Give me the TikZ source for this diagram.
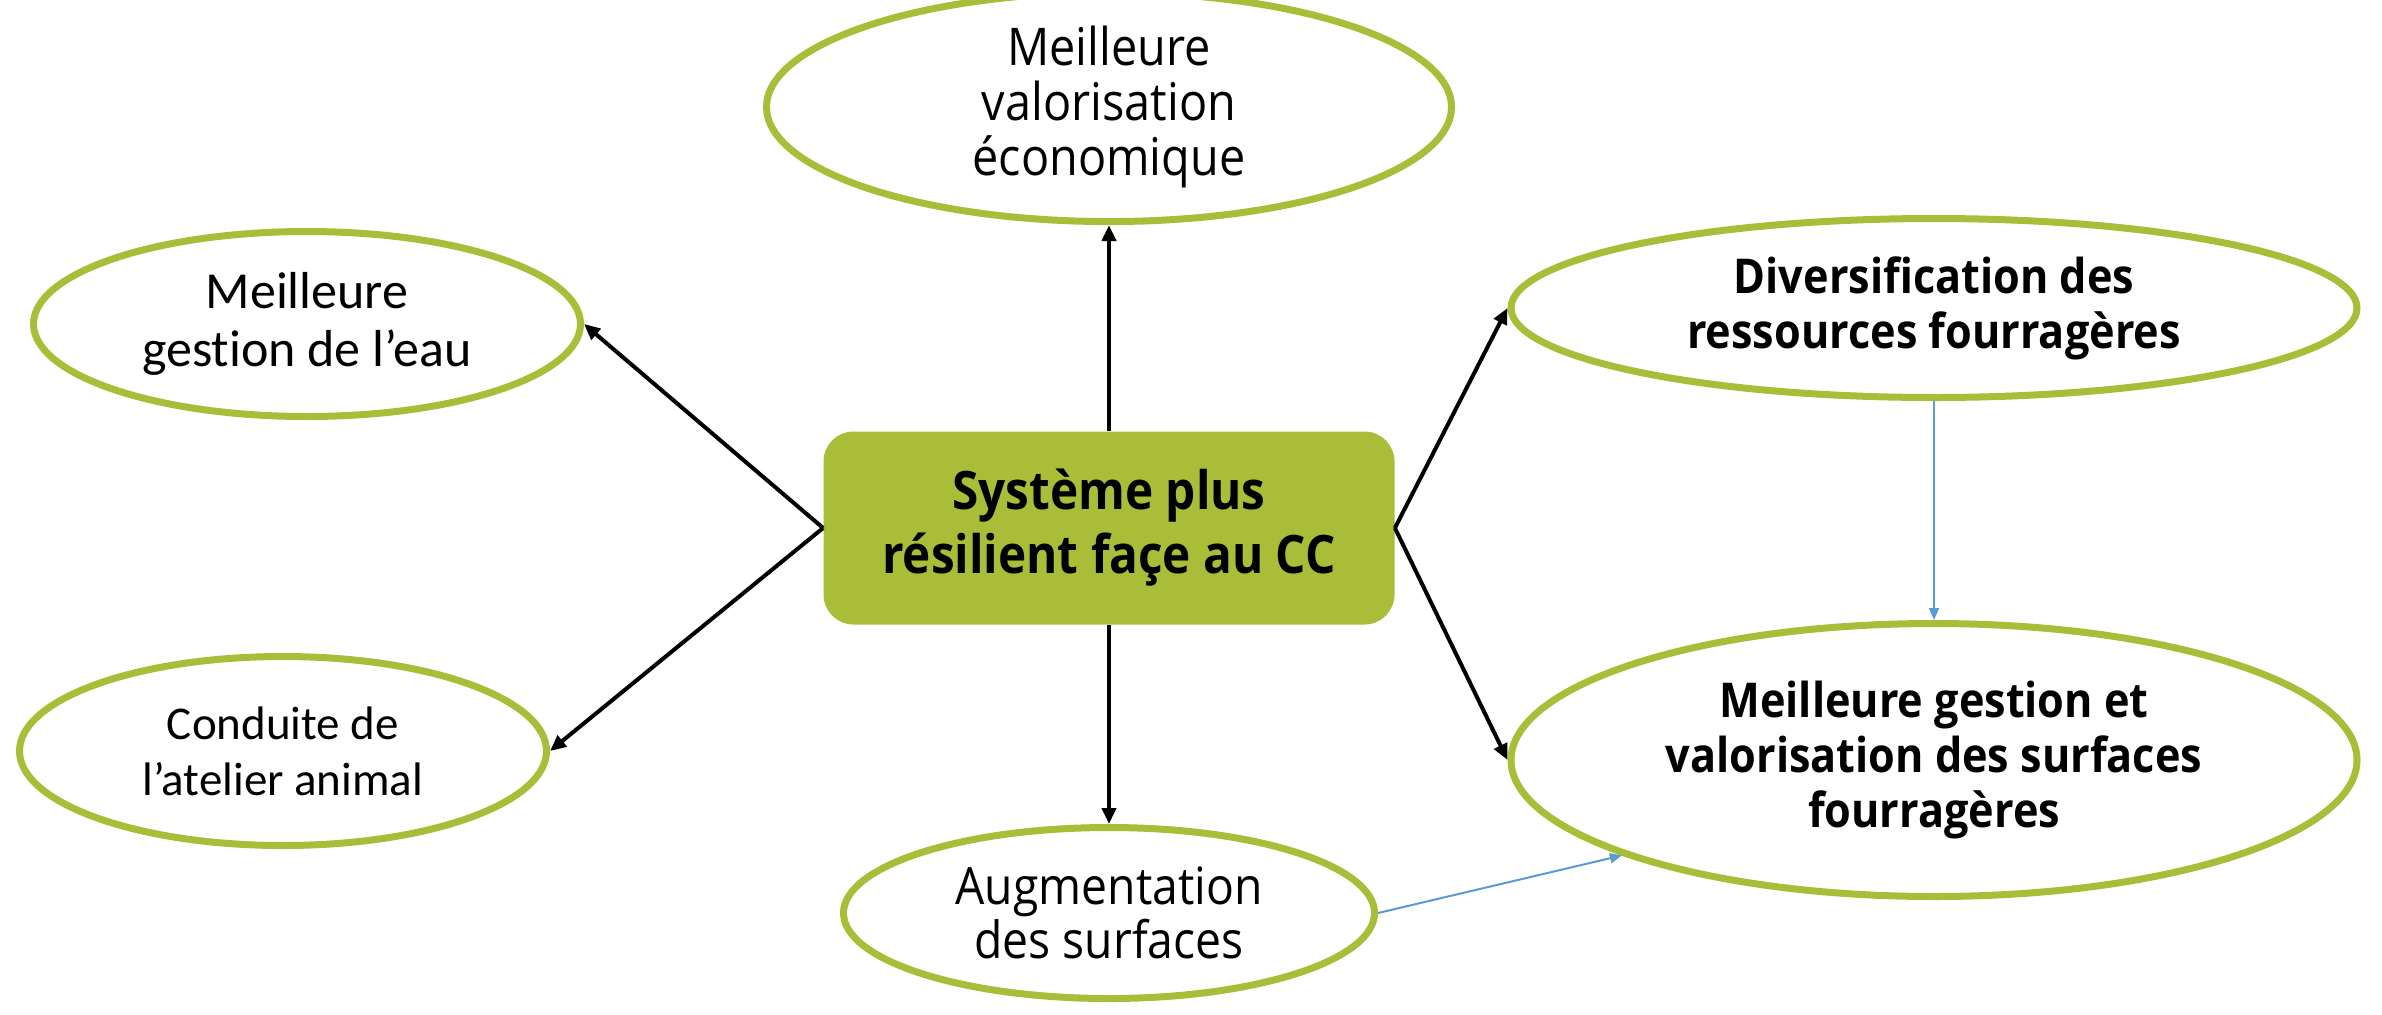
\documentclass[tikz,border=0pt]{standalone}
\usepackage{fontspec}
\setmainfont{Open Sans}[FakeStretch=0.9]
\newfontfamily\carlfont{Carlito}[Ligatures={NoCommon}]
\usetikzlibrary{shapes.geometric,arrows.meta}
\definecolor{leaf}{HTML}{A9BD38}
\definecolor{skyline}{HTML}{5B9BD5}
\begin{document}
\begin{tikzpicture}[x=0.5pt,y=-0.5pt,
  oval/.style={ellipse,draw=leaf,line width=3.5pt,fill=white,inner sep=0pt,align=center,text=black},
  reg/.style={font=\fontsize{26}{27.5}\selectfont},
  bld/.style={font=\fontsize{24}{27.5}\selectfont\bfseries},
  blackarrow/.style={line width=2pt,-{Triangle[length=8pt,width=7pt]}},
  bluearrow/.style={skyline,line width=1pt,-{Triangle[length=6pt,width=5pt]}}]
\useasboundingbox (0,0) rectangle (2382,1014);
\node[fill=leaf,rounded corners=15pt,minimum width=285.5pt,minimum height=96.5pt,inner sep=0pt,align=center,
  font=\fontsize{26.5}{32}\selectfont\bfseries] (core) at (1109,528) {Système plus\\résilient façe au CC};
\node[oval,reg,minimum width=342.5pt,minimum height=94.5pt] (eco) at (1109,107) {Meilleure\\valorisation\\économique};
\node[oval,minimum width=273.5pt,minimum height=92.5pt,font=\carlfont\fontsize{26}{29}\selectfont] (eau) at (307,324) {Meilleure\\gestion de l’eau};
\node[oval,minimum width=263.5pt,minimum height=94.5pt,font=\carlfont\fontsize{23.5}{28}\selectfont] (animal) at (283,751) {Conduite de\\l’atelier animal};
\node[oval,bld,minimum width=423pt,minimum height=89.5pt] (diversif) at (1934,308) {Diversification des\\ressources fourragères};
\node[oval,bld,minimum width=423pt,minimum height=136.5pt] (surfaces) at (1934,760) {Meilleure gestion et\\valorisation des surfaces\\fourragères};
\node[oval,minimum width=265.5pt,minimum height=85.5pt,font=\fontsize{25.7}{27}\selectfont] (augm) at (1109,913) {Augmentation\\des surfaces};
\draw[blackarrow] (core.north) -- (eco.south);
\draw[blackarrow] (core.south) -- (augm.north);
\draw[blackarrow] (core.west) -- (eau.east);
\draw[blackarrow] (core.west) -- (animal.east);
\draw[blackarrow] (core.east) -- (diversif.west);
\draw[blackarrow] (core.east) -- (surfaces.west);
\draw[bluearrow] (diversif.south) -- (surfaces.north);
\draw[bluearrow] (augm.east) -- (surfaces.197);
\end{tikzpicture}
\end{document}
